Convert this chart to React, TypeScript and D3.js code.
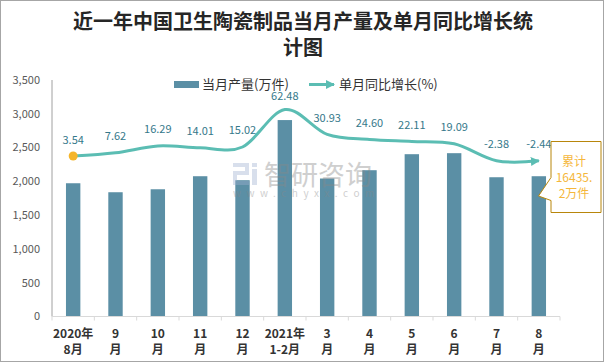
import React from 'react';
import * as d3 from 'd3';

const categories = ['2020年|8月', '9|月', '10|月', '11|月', '12|月', '2021年|1-2月', '3|月', '4|月', '5|月', '6|月', '7|月', '8|月'];
const monthlyOutput = [1972, 1839, 1883, 2076, 2017, 2907, 2042, 2165, 2402, 2417, 2061, 2076];
const yoyGrowth = [3.54, 7.62, 16.29, 14.01, 15.02, 62.48, 30.93, 24.6, 22.11, 19.09, -2.38, -2.44];
const yTicks = [0, 500, 1000, 1500, 2000, 2500, 3000, 3500];
const seriesNames = ['当月产量(万件)', '单月同比增长(%)'];
const titleLines = ['近一年中国卫生陶瓷制品当月产量及单月同比增长统', '计图'];
const cumulativeNote = ['累计', '16435.', '2万件'];

const W = 606;
const H = 363;
const FONT = '"Noto Sans CJK SC", "Noto Sans", sans-serif';
const BAR = '#5b8fa5';
const LINE = '#5bbdb3';
const LABEL = '#35788a';

export default function App() {
  const left = 52, right = 560, top = 80, bottom = 316.5;
  const idx = categories.map((_, i) => i);
  const x = d3.scaleBand<number>().domain(idx).range([left, right]).paddingInner(0.66).paddingOuter(0.33);
  const cx = (i: number) => (x(i) as number) + x.bandwidth() / 2;
  const y = d3.scaleLinear().domain([0, 3500]).range([bottom, top]);
  const y2 = d3.scaleLinear().domain([-200, 100]).range([bottom, top]);
  const step = x.step();

  const line = d3.line<number>()
    .x((_, i) => cx(i))
    .y((d) => y2(d))
    .curve(d3.curveCardinal.tension(0));

  const boundaries = d3.range(categories.length + 1).map((k) => left + k * step);

  return (
    <svg width={W} height={H} style={{ position: 'absolute', left: 0, top: 0, fontFamily: FONT }}>
      <defs>
        <marker id="arrow" markerUnits="userSpaceOnUse" markerWidth="10" markerHeight="10" refX="8" refY="4.5" orient="auto">
          <path d="M0,0 L9,4.5 L0,9 Z" fill={LINE} />
        </marker>
      </defs>
      <rect x={0} y={0} width={W} height={H} fill="#fff" />
      <rect x={0.5} y={0.5} width={603} height={361} fill="none" stroke="#a6a6a6" />

      {titleLines.map((t, i) => (
        <text key={i} x={303} y={29 + i * 26} textAnchor="middle" fontSize={20} fontWeight="bold" fill="#262626">{t}</text>
      ))}

      {/* legend */}
      <rect x={174} y={81} width={25} height={7} fill={BAR} />
      <text x={202} y={89} fontSize={13} fill="#333">{seriesNames[0]}</text>
      <line x1={309} y1={84.5} x2={334} y2={84.5} stroke={LINE} strokeWidth={3} markerEnd="url(#arrow)" />
      <text x={339} y={89} fontSize={13} fill="#333">{seriesNames[1]}</text>

      {/* y axis */}
      <line x1={left} y1={top} x2={left} y2={bottom} stroke="#a0a0a0" />
      {yTicks.map((t) => (
        <text key={t} x={40} y={y(t)} dy="0.35em" textAnchor="end" fontSize={11} fill="#595959">{d3.format(',')(t)}</text>
      ))}

      {/* bars */}
      {monthlyOutput.map((v, i) => (
        <rect key={i} x={x(i)} y={y(v)} width={x.bandwidth()} height={bottom - y(v)} fill={BAR} />
      ))}

      {/* x axis */}
      <line x1={left} y1={bottom} x2={right} y2={bottom} stroke="#d9d9d9" />
      {boundaries.map((b, k) => (
        <line key={k} x1={b} y1={bottom} x2={b} y2={bottom + 4} stroke="#d9d9d9" />
      ))}
      {categories.map((c, i) => {
        const [a, b] = c.split('|');
        return (
          <g key={i}>
            <text x={cx(i)} y={337.5} textAnchor="middle" fontSize={12} fontWeight="bold" fill="#333">{a}</text>
            <text x={cx(i)} y={353.5} textAnchor="middle" fontSize={12} fontWeight="bold" fill="#333">{b}</text>
          </g>
        );
      })}

      {/* watermark */}
      <g opacity={0.4}>
        <g fill="#9fb0d0">
          <rect x={233} y={163} width={15} height={4} />
          <rect x={245} y={163} width={4} height={12} />
          <rect x={233} y={171} width={16} height={4} />
          <rect x={233} y={171} width={4} height={14} />
          <rect x={233} y={181} width={16} height={4} />
          <rect x={252} y={163} width={5} height={4} />
          <rect x={252} y={169} width={5} height={16} />
        </g>
        <text x={264} y={185} fontSize={27} fill="#888">智研咨询</text>
        <text x={233} y={197} fontSize={10} fill="#888" letterSpacing={5.5}>www.chyxx.com</text>
      </g>

      {/* line */}
      <path d={line(yoyGrowth) || ''} fill="none" stroke={LINE} strokeWidth={3} markerEnd="url(#arrow)" />
      <circle cx={cx(0)} cy={y2(yoyGrowth[0])} r={4.5} fill="#f5b52a" />
      {yoyGrowth.map((v, i) => (
        <text key={i} x={cx(i)} y={Math.max(y2(v) - 12.5, 100)} textAnchor="middle" fontSize={11} fill={LABEL}>{v.toFixed(2)}</text>
      ))}

      {/* callout */}
      <path d="M551,141.5 H601 V212.5 H551 V200.5 L538.5,196 L551,177.5 Z" fill="#fff" stroke="#b8860b" />
      {cumulativeNote.map((t, i) => (
        <text key={i} x={574} y={166 + i * 16} textAnchor="middle" fontSize={12} fill="#f5b73b">{t}</text>
      ))}
    </svg>
  );
}
